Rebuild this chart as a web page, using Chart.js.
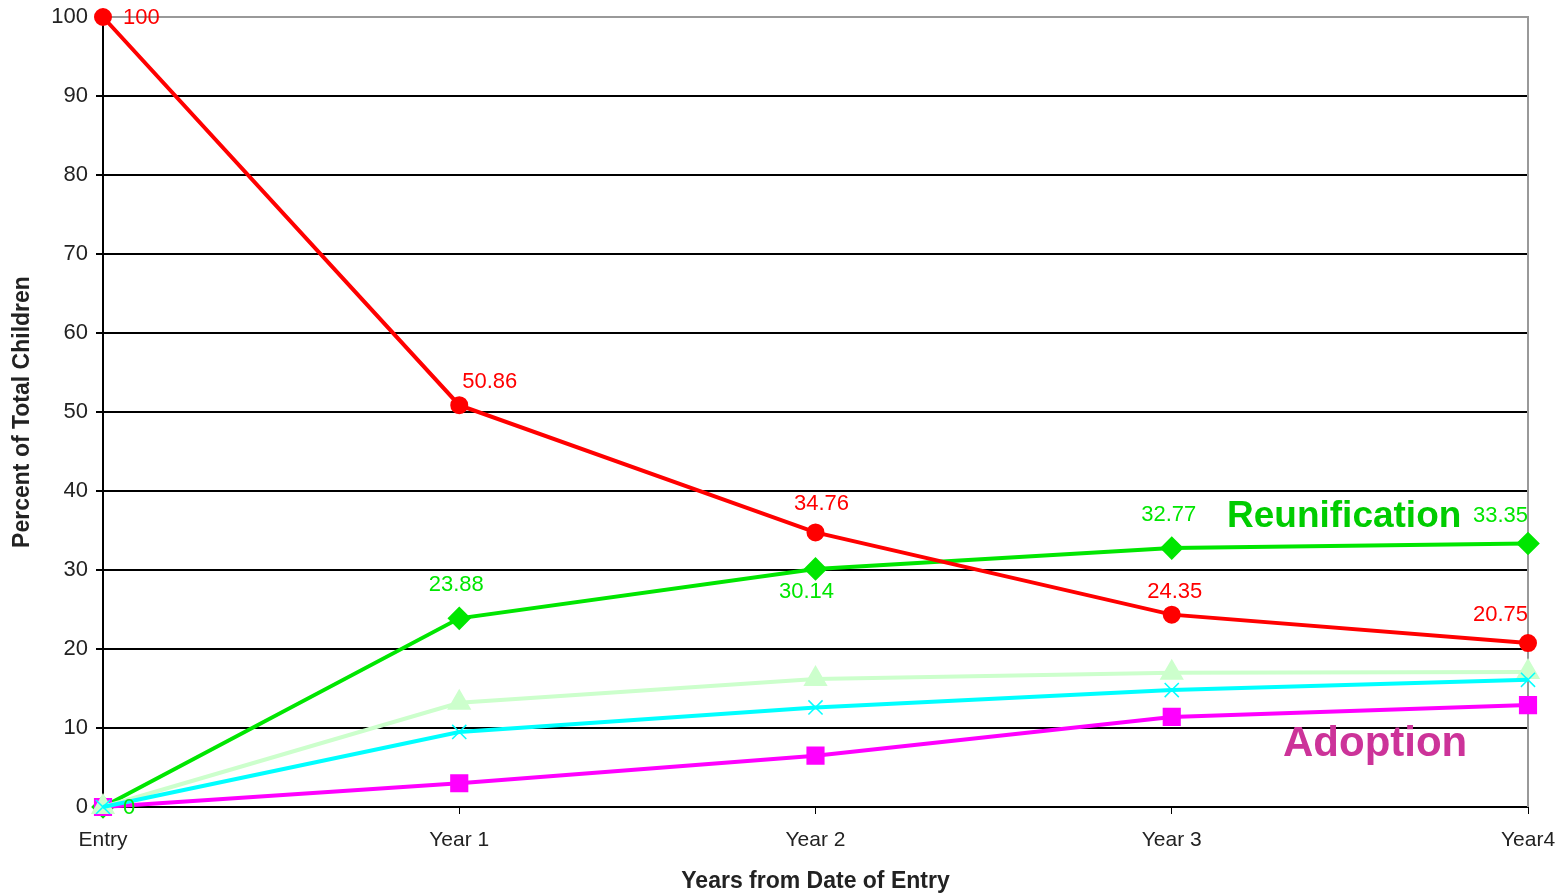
<!DOCTYPE html>
<html lang="en">
<head>
    <meta charset="UTF-8">
    <title>Children by years from entry</title>
    <script src="https://cdn.jsdelivr.net/npm/chart.js@4"></script>
    <style>
        html, body { margin: 0; padding: 0; background: #ffffff; }
        #wrap { position: relative; width: 1566px; height: 895px; }
    </style>
</head>
<body>
<div id="wrap"><canvas id="chart"></canvas></div>
<script>
    // data
    const years = ['Entry', 'Year 1', 'Year 2', 'Year 3', 'Year4'];
    const inCare = [100, 50.86, 34.76, 24.35, 20.75];
    const reunification = [0, 23.88, 30.14, 32.77, 33.35];
    const otherExit = [0, 13.2, 16.2, 17.0, 17.1];
    const guardianship = [0, 9.5, 12.6, 14.8, 16.1];
    const adoption = [0, 3.0, 6.5, 11.4, 12.9];
    const yTicks = [0, 10, 20, 30, 40, 50, 60, 70, 80, 90, 100];

    // where each value label sits next to its point
    const inCareLabelPos = ['right', 'aboveRight', 'above', 'aboveNear', 'aboveLeft'];
    const reunLabelPos = ['right', 'aboveFar', 'below', 'aboveFar', 'aboveLeft'];

    const font = "'Liberation Sans', Arial, sans-serif";

    const valueLabels = {
        id: 'valueLabels',
        afterDatasetsDraw(chart) {
            const ctx = chart.ctx;
            ctx.save();
            ctx.font = '22px ' + font;
            chart.data.datasets.forEach((ds, i) => {
                if (!ds.labelPos) return;
                const meta = chart.getDatasetMeta(i);
                ctx.fillStyle = ds.borderColor;
                meta.data.forEach((pt, j) => {
                    const txt = String(ds.data[j]);
                    const pos = ds.labelPos[j];
                    let x = pt.x, y = pt.y;
                    ctx.textBaseline = 'middle';
                    if (pos === 'right') { ctx.textAlign = 'left'; x += 20; y += 1; }
                    else if (pos === 'aboveRight') { ctx.textAlign = 'left'; x += 3; y -= 23; }
                    else if (pos === 'above') { ctx.textAlign = 'center'; x += 6; y -= 28; }
                    else if (pos === 'aboveNear') { ctx.textAlign = 'center'; x += 3; y -= 23; }
                    else if (pos === 'aboveFar') { ctx.textAlign = 'center'; x -= 3; y -= 33; }
                    else if (pos === 'below') { ctx.textAlign = 'center'; x -= 9; y += 23; }
                    else if (pos === 'aboveLeft') { ctx.textAlign = 'right'; x += 0; y -= 28; }
                    ctx.fillText(txt, x, y);
                });
            });
            ctx.restore();
        }
    };

    const frame = {
        id: 'frame',
        beforeDatasetsDraw(chart) {
            const a = chart.chartArea;
            const ctx = chart.ctx;
            ctx.save();
            ctx.strokeStyle = '#999999';
            ctx.lineWidth = 2;
            ctx.beginPath();
            ctx.moveTo(a.left, a.top);
            ctx.lineTo(a.right, a.top);
            ctx.lineTo(a.right, a.bottom);
            ctx.stroke();
            ctx.restore();
        },
        afterDatasetsDraw(chart) {
            const ctx = chart.ctx;
            ctx.save();
            ctx.textBaseline = 'middle';
            ctx.textAlign = 'left';
            ctx.font = 'bold 37px ' + font;
            ctx.fillStyle = '#00cc00';
            ctx.fillText('Reunification', 1227, 517);
            ctx.font = 'bold 42px ' + font;
            ctx.fillStyle = '#cc3399';
            ctx.fillText('Adoption', 1283, 744);
            ctx.restore();
        }
    };

    new Chart(document.getElementById('chart'), {
        type: 'line',
        data: {
            labels: years,
            datasets: [
                {
                    label: 'In care',
                    data: inCare,
                    borderColor: '#ff0000',
                    backgroundColor: '#ff0000',
                    borderWidth: 4,
                    pointStyle: 'circle',
                    pointRadius: 7,
                    labelPos: inCareLabelPos,
                    clip: false,
                    order: 1
                },
                {
                    label: 'Reunification',
                    data: reunification,
                    borderColor: '#00e600',
                    backgroundColor: '#00e600',
                    borderWidth: 4,
                    pointStyle: 'rectRot',
                    pointRadius: 9,
                    labelPos: reunLabelPos,
                    clip: false,
                    order: 5
                },
                {
                    label: 'Other',
                    data: otherExit,
                    borderColor: '#ccffcc',
                    backgroundColor: '#ccffcc',
                    borderWidth: 4,
                    pointStyle: 'triangle',
                    pointRadius: 10,
                    clip: false,
                    order: 3
                },
                {
                    label: 'Guardianship',
                    data: guardianship,
                    borderColor: '#00ffff',
                    backgroundColor: '#00ffff',
                    borderWidth: 4,
                    pointStyle: 'crossRot',
                    pointRadius: 10,
                    pointBorderWidth: 1.5,
                    clip: false,
                    order: 2
                },
                {
                    label: 'Adoption',
                    data: adoption,
                    borderColor: '#ff00ff',
                    backgroundColor: '#ff00ff',
                    borderWidth: 4,
                    pointStyle: 'rect',
                    pointRadius: 10,
                    clip: false,
                    order: 4
                }
            ]
        },
        options: {
            responsive: true,
            maintainAspectRatio: false,
            animation: false,
            layout: { padding: { top: 17, right: 38, left: 0, bottom: 0 } },
            plugins: {
                legend: { display: false },
                tooltip: { enabled: false }
            },
            elements: { line: { tension: 0 } },
            scales: {
                x: {
                    offset: false,
                    grid: {
                        display: true,
                        drawOnChartArea: false,
                        drawTicks: true,
                        tickLength: 7,
                        color: '#000000'
                    },
                    border: { color: '#000000', width: 2 },
                    ticks: {
                        color: '#222222',
                        font: { family: font, size: 21 },
                        padding: 14,
                        maxRotation: 0,
                        autoSkip: false
                    },
                    title: {
                        display: true,
                        text: 'Years from Date of Entry',
                        color: '#222222',
                        font: { family: font, size: 23, weight: 'bold' },
                        padding: { top: 10, bottom: 0 }
                    },
                    afterFit(scale) {
                        scale.height = 88;
                        scale.paddingLeft = 0;
                        scale.paddingRight = 0;
                    }
                },
                y: {
                    min: 0,
                    max: 100,
                    afterBuildTicks(scale) { scale.ticks = yTicks.map(v => ({ value: v })); },
                    grid: {
                        color: (c) => c.tick && c.tick.value === 100 ? '#999999' : '#000000',
                        lineWidth: 2,
                        tickLength: 7
                    },
                    border: { color: '#000000', width: 2 },
                    ticks: {
                        color: '#222222',
                        font: { family: font, size: 22 },
                        padding: 8
                    },
                    title: {
                        display: true,
                        text: 'Percent of Total Children',
                        color: '#222222',
                        font: { family: font, size: 23, weight: 'bold' },
                        padding: { top: 9, bottom: 0 }
                    },
                    afterFit(scale) {
                        scale.width = 103;
                        scale.paddingTop = 0;
                        scale.paddingBottom = 0;
                    }
                }
            }
        },
        plugins: [frame, valueLabels]
    });
</script>
</body>
</html>
